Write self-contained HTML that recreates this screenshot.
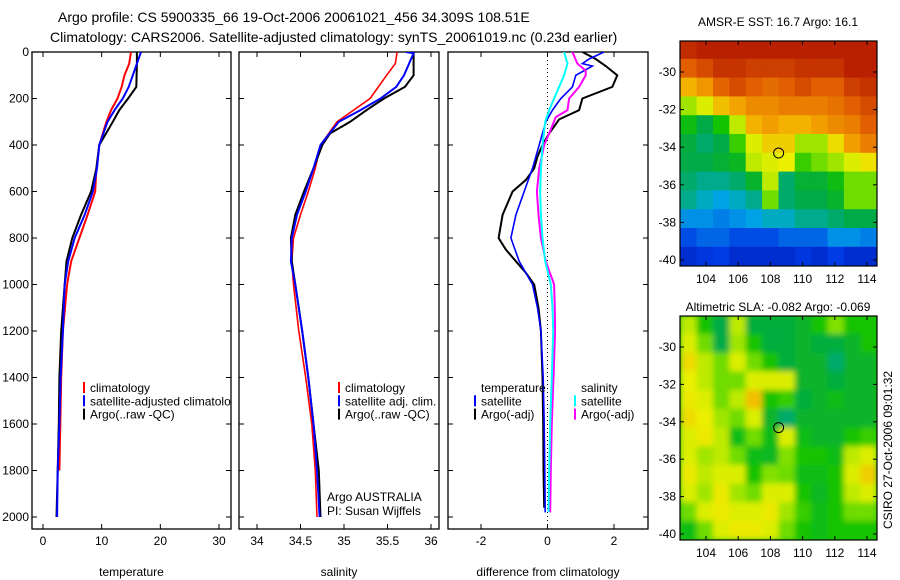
<!DOCTYPE html>
<html><head><meta charset="utf-8">
<style>
body{margin:0;background:#fff;width:900px;height:580px;overflow:hidden}
svg{display:block;font-family:"Liberation Sans",Arial,sans-serif}
text{fill:#000}
</style></head>
<body>
<svg id="fig" width="900" height="580" viewBox="0 0 900 580">
<defs>
<clipPath id="c1"><rect x="32" y="52" width="199" height="477"/></clipPath>
<clipPath id="c2"><rect x="239" y="52" width="200" height="477"/></clipPath>
<clipPath id="c3"><rect x="448" y="52" width="200" height="477"/></clipPath>
<clipPath id="cm1"><rect x="680" y="41" width="197" height="225"/></clipPath>
<clipPath id="cm2"><rect x="680" y="316" width="197" height="224"/></clipPath>
<filter id="bl" x="-5%" y="-5%" width="110%" height="110%"><feGaussianBlur stdDeviation="3"/></filter>
</defs>
<text x="58" y="22" font-size="14">Argo profile: CS 5900335_66 19-Oct-2006 20061021_456 34.309S 108.51E</text>
<text x="50" y="42" font-size="14">Climatology: CARS2006. Satellite-adjusted climatology: synTS_20061019.nc (0.23d earlier)</text>
<text x="778" y="26" font-size="12" text-anchor="middle">AMSR-E SST: 16.7 Argo: 16.1</text>
<text x="778" y="311" font-size="12" text-anchor="middle">Altimetric SLA: -0.082 Argo: -0.069</text>
<text transform="translate(892,450) rotate(-90)" font-size="12" text-anchor="middle">CSIRO 27-Oct-2006 09:01:32</text>
<g id="g"></g>
</svg>
<script>
// ---- data ----
const depthTicks=[0,200,400,600,800,1000,1200,1400,1600,1800,2000];
const tempTicks=[0,10,20,30];
const salTicks=[34,34.5,35,35.5,36];
const diffTicks=[-2,0,2];
const lonTicks=[104,106,108,110,112,114];
const latTicks=[-30,-32,-34,-36,-38,-40];

const tClimDepth=[0,50,100,150,200,250,300,400,500,600,700,800,900,1000,1200,1400,1600,1800];
const tClim=[15.0,14.7,13.9,13.4,12.7,11.6,10.8,9.6,9.1,8.9,7.6,6.2,4.8,4.1,3.4,3.1,2.95,2.8];
const tSatDepth=[0,50,100,150,200,250,300,400,500,600,700,800,900,1000,1200,1400,1600,1800,2000];
const tSat=[16.7,16.0,15.3,14.6,13.6,12.2,11.0,9.6,9.2,8.5,7.1,5.4,4.3,3.7,3.4,3.0,2.8,2.5,2.4];
const tArgoDepth=[0,50,150,200,250,300,400,500,600,700,800,900,1000,1200,1400,1600,1800,2000];
const tArgo=[16.0,16.0,15.9,14.5,13.0,11.9,9.6,9.1,8.2,6.5,5.0,4.0,3.7,3.1,2.8,2.7,2.5,2.3];

const sClimDepth=[0,50,100,200,250,300,400,500,600,700,800,900,1000,1200,1400,1600,1800,2000];
const sClim=[35.61,35.59,35.49,35.30,35.11,34.92,34.73,34.67,34.59,34.50,34.42,34.40,34.42,34.48,34.56,34.63,34.67,34.69];
const sSatDepth=[0,5,100,150,200,250,300,400,500,600,700,800,900,1000,1200,1400,1600,1800,2000];
const sSat=[35.71,35.80,35.69,35.60,35.42,35.19,34.94,34.73,34.65,34.56,34.46,34.40,34.39,34.44,34.52,34.59,34.65,34.69,34.72];
const sArgoDepth=[0,100,150,200,250,300,350,400,500,600,700,800,900,1000,1200,1400,1600,1800,2000];
const sArgo=[35.80,35.80,35.70,35.46,35.26,35.07,34.84,34.75,34.65,34.54,34.44,34.39,34.40,34.44,34.52,34.59,34.65,34.71,34.73];

const dTArgoDepth=[0,30,60,100,150,200,250,290,350,400,450,500,550,600,650,700,800,850,900,950,1000,1100,1200,1400,1600,1800,1960];
const dTArgo=[1.05,1.45,1.75,2.1,1.95,1.05,0.95,0.35,0.05,-0.15,-0.3,-0.4,-0.65,-1.05,-1.2,-1.35,-1.47,-1.25,-0.95,-0.65,-0.4,-0.27,-0.2,-0.15,-0.13,-0.12,-0.1];
const dTSatDepth=[0,30,50,60,100,150,200,250,300,400,500,600,700,800,900,1000,1100,1200,1400,1600,1800,1980];
const dTSat=[1.7,1.25,1.05,1.35,0.85,0.75,0.4,0.15,-0.05,-0.25,-0.45,-0.7,-0.95,-1.1,-0.85,-0.45,-0.3,-0.2,-0.13,-0.1,-0.08,-0.07];
const dSSatDepth=[0,50,100,150,200,250,300,400,500,600,700,800,900,1000,1100,1200,1400,1600,1800,1980];
const dSSat=[0.5,0.6,0.5,0.35,0.2,0.05,-0.07,-0.15,-0.2,-0.22,-0.2,-0.15,-0.07,0.1,0.15,0.17,0.13,0.08,0.05,0.03];
const dSArgoDepth=[0,50,80,100,150,200,250,280,350,400,500,600,700,800,900,1000,1100,1200,1400,1600,1800,1980];
const dSArgo=[0.75,0.9,1.15,1.15,0.95,0.65,0.6,0.25,0.05,-0.1,-0.25,-0.32,-0.27,-0.2,-0.05,0.2,0.22,0.23,0.18,0.13,0.1,0.08];

const sstGrid=[
[.93,.95,.95,.95,.95,.95,.95,.95,.95,.95,.95,.95],
[.85,.88,.92,.92,.9,.9,.9,.92,.92,.92,.95,.95],
[.72,.76,.84,.88,.85,.83,.85,.88,.85,.85,.9,.92],
[.58,.62,.7,.74,.78,.78,.8,.8,.8,.82,.85,.88],
[.48,.42,.5,.6,.72,.75,.72,.72,.75,.78,.8,.85],
[.43,.4,.42,.52,.62,.68,.68,.58,.58,.66,.75,.8],
[.42,.42,.44,.46,.6,.62,.63,.52,.55,.58,.62,.65],
[.4,.38,.38,.4,.45,.6,.4,.44,.44,.48,.55,.55],
[.38,.35,.32,.35,.38,.55,.4,.42,.42,.45,.55,.55],
[.3,.3,.28,.3,.32,.35,.35,.38,.38,.4,.42,.42],
[.22,.25,.25,.22,.22,.22,.25,.25,.25,.3,.3,.28],
[.15,.18,.2,.15,.15,.15,.15,.18,.15,.2,.15,.15],
[.1,.12,.12,.1,.1,.1,.12,.1,.1,.1,.1,.08]];
const slaGrid=[
[.6,.5,.42,.6,.43,.43,.43,.45,.5,.56,.5,.5],
[.62,.55,.42,.58,.5,.43,.43,.45,.43,.43,.45,.5],
[.66,.6,.55,.62,.55,.5,.43,.45,.45,.4,.45,.45],
[.63,.6,.55,.55,.62,.62,.62,.45,.45,.43,.45,.45],
[.64,.62,.55,.6,.7,.5,.52,.43,.45,.48,.45,.45],
[.66,.63,.58,.55,.62,.45,.4,.45,.45,.45,.45,.45],
[.62,.64,.6,.48,.55,.48,.62,.48,.45,.45,.5,.52],
[.62,.58,.6,.55,.48,.46,.56,.5,.5,.48,.6,.62],
[.64,.6,.62,.62,.5,.56,.55,.48,.48,.5,.62,.68],
[.62,.58,.64,.58,.55,.62,.62,.5,.46,.5,.6,.62],
[.55,.62,.64,.62,.62,.64,.58,.52,.48,.5,.55,.55],
[.48,.55,.62,.64,.64,.62,.55,.5,.48,.5,.5,.5]];
const argoLon=108.51, argoLat=-34.309;

// ---- drawing ----
const NS='http://www.w3.org/2000/svg';
const G=document.getElementById('g');
function mk(tag,attrs,parent){const e=document.createElementNS(NS,tag);for(const k in attrs)e.setAttribute(k,attrs[k]);(parent||G).appendChild(e);return e;}
const yD=d=>52+d*0.2325;
function lin(d0,d1,r0,r1){return v=>r0+(v-d0)*(r1-r0)/(d1-d0);}
const xT=lin(0,30,43,219), xS=lin(34,36,257,431), xDf=lin(-2,2,481,614);
const panels=[{x:32,w:199,sx:xT,ticks:tempTicks,lab:'temperature',name:'temperature'},
 {x:239,w:200,sx:xS,ticks:salTicks,lab:'salinity',name:'salinity'},
 {x:448,w:200,sx:xDf,ticks:diffTicks,lab:'difference from climatology',name:'difference'}];
panels.forEach((p,i)=>{
  const r=mk('rect',{x:p.x,y:52,width:p.w,height:477,fill:'#fff',stroke:'#000','stroke-width':1.3});
  
  
  depthTicks.forEach(d=>{const y=yD(d);
    mk('line',{x1:p.x,x2:p.x+5,y1:y,y2:y,stroke:'#000'});mk('line',{x1:p.x+p.w-5,x2:p.x+p.w,y1:y,y2:y,stroke:'#000'});
    if(i===0){const t=mk('text',{x:29,y:y+4,'font-size':12,'text-anchor':'end'});t.textContent=d;
      
      }
  });
  p.ticks.forEach(v=>{const x=p.sx(v);
    mk('line',{x1:x,x2:x,y1:529,y2:524,stroke:'#000'});mk('line',{x1:x,x2:x,y1:52,y2:57,stroke:'#000'});
    const t=mk('text',{x:x,y:545,'font-size':12,'text-anchor':'middle'});t.textContent=v;
    
    
  });
  const t=mk('text',{x:p.x+p.w/2,y:576,'font-size':12,'text-anchor':'middle'});t.textContent=p.lab;
  
  
});
{const l=mk('line',{x1:xDf(0),x2:xDf(0),y1:52,y2:529,stroke:'#000','stroke-dasharray':'1,3'});
  
  }
function series(depths,vals,sx,color,clip,name,w){
  const pts=depths.map((d,i)=>sx(vals[i]).toFixed(1)+','+yD(d).toFixed(1)).join(' ');
  const pl=mk('polyline',{points:pts,fill:'none',stroke:color,'stroke-width':w||2,'clip-path':'url(#'+clip+')'});
  
  
}
series(tClimDepth,tClim,xT,'#f00','c1','temp-climatology-line');
series(tArgoDepth,tArgo,xT,'#000','c1','temp-argo-line');
series(tSatDepth,tSat,xT,'#00f','c1','temp-satellite-line');
series(sClimDepth,sClim,xS,'#f00','c2','sal-climatology-line',1.6);
series(sArgoDepth,sArgo,xS,'#000','c2','sal-argo-line');
series(sSatDepth,sSat,xS,'#00f','c2','sal-satellite-line');
series(dTArgoDepth,dTArgo,xDf,'#000','c3','diff-temp-argo-line');
series(dTSatDepth,dTSat,xDf,'#00f','c3','diff-temp-satellite-line',1.6);
series(dSArgoDepth,dSArgo,xDf,'#f0f','c3','diff-sal-argo-line');
series(dSSatDepth,dSSat,xDf,'#0ff','c3','diff-sal-satellite-line');

function legend(x,y,items,nm){items.forEach((it,i)=>{
  if(it[0]){const m=mk('rect',{x:x,y:y+i*13.3-10,width:2,height:11,fill:it[0]});
    
    }
  const t=mk('text',{x:x+7,y:y+i*13.3,'font-size':12});t.textContent=it[1];
  
  
});}
legend(83,392,[['#f00','climatology'],['#00f','satellite-adjusted climatolo'],['#000','Argo(..raw -QC)']],'temp-legend');
legend(338,392,[['#f00','climatology'],['#00f','satellite adj. clim.'],['#000','Argo(..raw -QC)']],'sal-legend');
legend(474,392,[[null,'temperature'],['#00f','satellite'],['#000','Argo(-adj)']],'diff-temp-legend');
legend(574,392,[[null,'salinity'],['#0ff','satellite'],['#f0f','Argo(-adj)']],'diff-sal-legend');
{const a=mk('text',{x:327,y:501,'font-size':12});a.textContent='Argo AUSTRALIA';


const b=mk('text',{x:327,y:515,'font-size':12});b.textContent='PI: Susan Wijffels';

}

// colormap
const stops=[[0,[0,0,140]],[.2,[0,60,230]],[.33,[0,170,230]],[.42,[0,170,70]],[.5,[20,195,0]],[.56,[130,225,0]],[.63,[235,240,0]],[.73,[245,170,0]],[.85,[225,95,0]],[1,[165,0,0]]];
function cmap(v){for(let i=1;i<stops.length;i++){if(v<=stops[i][0]){const a=stops[i-1],b=stops[i],t=(v-a[0])/(b[0]-a[0]);
  return 'rgb('+a[1].map((c,k)=>Math.round(c+(b[1][k]-c)*t)).join(',')+')';}}return 'rgb(165,0,0)';}
const xLon=lin(104,114,706,867);
function drawMap(grid,y0,latTopPx,lat40Px,clip,blur,nm,h){
  const yLat=lin(-30,-40,latTopPx,lat40Px);
  const grp=mk('g',{'clip-path':'url(#'+clip+')'});
  
  
  mk('rect',{x:680,y:y0,width:197,height:h,fill:cmap(.5)},grp);
  const inner=mk('g',blur?{filter:'url(#bl)'}:{},grp);
  const lat0=-28.3;
  grid.forEach((row,r)=>row.forEach((v,c)=>{
    const lon=102.4+c*(12.2/12), lat=lat0-r;
    const x=xLon(lon), y=yLat(lat), w=xLon(lon+12.2/12)-x+0.5, hh=yLat(lat-1)-y+0.5;
    const cell=mk('rect',{x:x.toFixed(1),y:y.toFixed(1),width:w.toFixed(1),height:hh.toFixed(1),fill:cmap(v)},inner);
    
    
  }));
  const fr=mk('rect',{x:680,y:y0,width:197,height:h,fill:'none',stroke:'#000','stroke-width':1.2});
  
  
  const ci=mk('circle',{cx:xLon(argoLon),cy:yLat(argoLat),r:5,fill:'none',stroke:'#000','stroke-width':1});
  
  
  latTicks.forEach(l=>{const y=yLat(l);
    mk('line',{x1:680,x2:684,y1:y,y2:y,stroke:'#000'});mk('line',{x1:873,x2:877,y1:y,y2:y,stroke:'#000'});
    const t=mk('text',{x:676,y:y+4,'font-size':12,'text-anchor':'end'});t.textContent=l;
    
    });
  lonTicks.forEach(l=>{const x=xLon(l);
    mk('line',{x1:x,x2:x,y1:y0,y2:y0+4,stroke:'#000'});mk('line',{x1:x,x2:x,y1:y0+h-4,y2:y0+h,stroke:'#000'});
    const t=mk('text',{x:x,y:y0+h+17,'font-size':12,'text-anchor':'middle'});t.textContent=l;
    
    });
}
drawMap(sstGrid,41,72,260,'cm1',false,'sst',225);
drawMap(slaGrid,316,347,534,'cm2',true,'sla',224);
</script>
</body></html>
